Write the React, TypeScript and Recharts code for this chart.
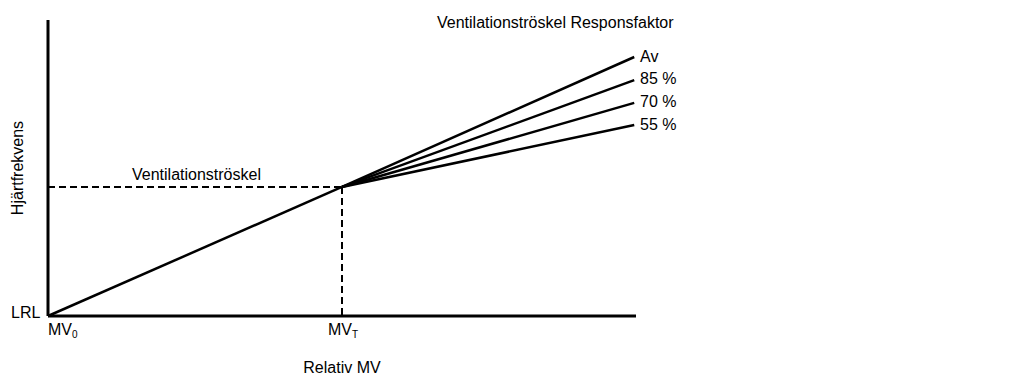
import { ComposedChart, Line, XAxis, YAxis, ReferenceLine } from "recharts";

// relative MV positions (0 = MV0, 50 = MVT)
const mvPoints = [0, 50, 99.7];
const thresholdX = 50;
const thresholdY = 43.6;

// heart rate response, below and above the ventilation threshold
const baseRate = [0, thresholdY];
const factorLabels = ["Av", "85 %", "70 %", "55 %"];
const factorKeys = ["av", "p85", "p70", "p55"];
const factorEnds = [87.5, 79.7, 72, 64.5];

const rows: Record<string, number | null>[] = mvPoints.map((x, i) => {
  const row: Record<string, number | null> = { x, base: i < baseRate.length ? baseRate[i] : null };
  factorKeys.forEach((k, j) => {
    row[k] = i === 0 ? null : i === 1 ? thresholdY : factorEnds[j];
  });
  return row;
});

const font = "'Liberation Sans', Arial, sans-serif";
const W = 1022;
const H = 376;
const margin = { top: 20, right: 386, bottom: 60, left: 48 };

const labelY = [62, 84, 107, 130];

export default function App() {
  return (
    <div style={{ position: "absolute", left: 0, top: 0, width: W, height: H, background: "#fff" }}>
      <ComposedChart width={W} height={H} data={rows} margin={margin}>
        <XAxis dataKey="x" type="number" domain={[0, 100]} hide />
        <YAxis type="number" domain={[0, 100]} hide />
        <ReferenceLine
          segment={[{ x: 0, y: thresholdY }, { x: thresholdX, y: thresholdY }]}
          stroke="#000"
          strokeWidth={2}
          strokeDasharray="7 4"
          ifOverflow="visible"
        />
        <ReferenceLine
          segment={[{ x: thresholdX, y: thresholdY }, { x: thresholdX, y: 0 }]}
          stroke="#000"
          strokeWidth={2}
          strokeDasharray="7 4"
          ifOverflow="visible"
        />
        <Line
          dataKey="base"
          stroke="#000"
          strokeWidth={2.5}
          dot={false}
          isAnimationActive={false}
        />
        {factorKeys.map((k) => (
          <Line
            key={k}
            dataKey={k}
            stroke="#000"
            strokeWidth={2.5}
            dot={false}
            isAnimationActive={false}
          />
        ))}
        {/* axes */}
        <ReferenceLine y={0} stroke="#000" strokeWidth={3} ifOverflow="visible" />
        <ReferenceLine x={0} stroke="#000" strokeWidth={3} ifOverflow="visible" />
        <g fontFamily={font} fontSize={16} fill="#000">
          <text x={437} y={28}>Ventilationströskel Responsfaktor</text>
          {factorLabels.map((t, i) => (
            <text key={t} x={640} y={labelY[i]}>
              {t}
            </text>
          ))}
          <text x={132} y={180}>Ventilationströskel</text>
          <text x={11} y={318}>LRL</text>
          <text x={48} y={335}>
            MV<tspan fontSize={10} dy={3}>0</tspan>
          </text>
          <text x={328} y={335}>
            MV<tspan fontSize={10} dy={3}>T</tspan>
          </text>
          <text x={342} y={373} textAnchor="middle">Relativ MV</text>
          <text x={23} y={168} textAnchor="middle" transform="rotate(-90 23 168)">
            Hjärtfrekvens
          </text>
        </g>
      </ComposedChart>
    </div>
  );
}
